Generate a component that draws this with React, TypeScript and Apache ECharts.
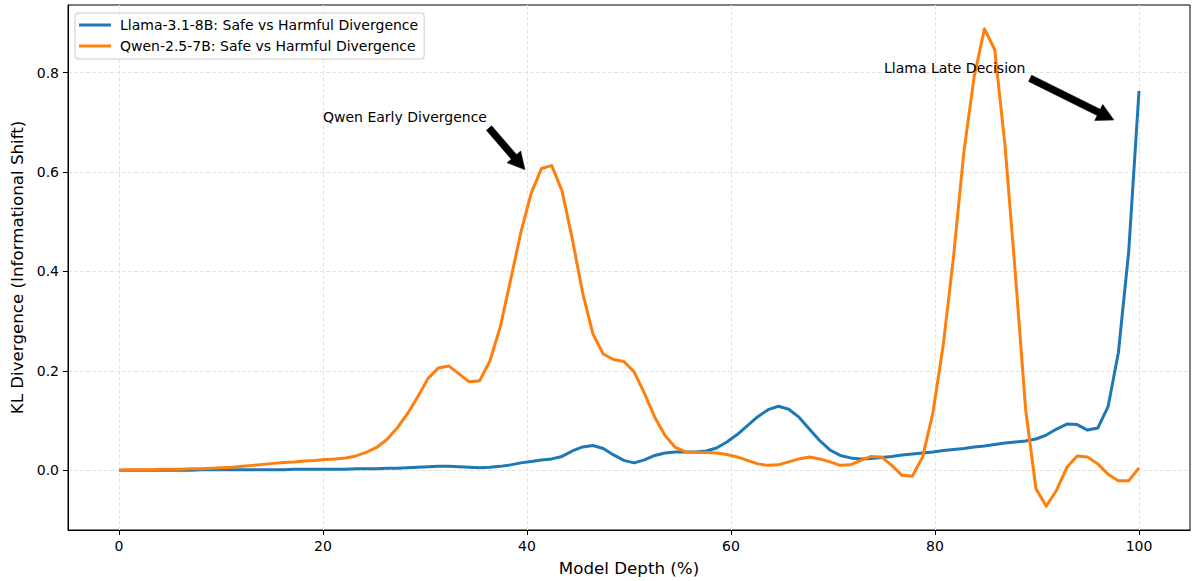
import { useEffect, useRef } from "react";
import * as echarts from "echarts";

// ---- data ----
const seriesNames = [
  "Llama-3.1-8B: Safe vs Harmful Divergence",
  "Qwen-2.5-7B: Safe vs Harmful Divergence",
];
const seriesColors = ["#1f77b4", "#ff7f0e"];

const llama = [
  0.0, 0.0, 0.0, 0.0, 0.0, 0.0, 0.0, 0.0, 0.001, 0.001,
  0.001, 0.001, 0.001, 0.001, 0.001, 0.001, 0.001, 0.002, 0.002, 0.002,
  0.002, 0.002, 0.002, 0.003, 0.003, 0.003, 0.004, 0.004, 0.005, 0.006,
  0.007, 0.008, 0.008, 0.007, 0.006, 0.005, 0.006, 0.008, 0.011, 0.015,
  0.018, 0.021, 0.023, 0.028, 0.039, 0.047, 0.05, 0.044, 0.031, 0.02,
  0.015, 0.021, 0.03, 0.035, 0.037, 0.037, 0.037, 0.039, 0.045, 0.057,
  0.072, 0.09, 0.108, 0.122, 0.129, 0.123, 0.107, 0.083, 0.06, 0.041,
  0.03, 0.025, 0.023, 0.024, 0.026, 0.028, 0.031, 0.033, 0.035, 0.037,
  0.04, 0.042, 0.044, 0.047, 0.049, 0.052, 0.055, 0.057, 0.059, 0.063,
  0.071, 0.083, 0.093, 0.092, 0.081, 0.085, 0.128, 0.237, 0.44, 0.763,
];

const qwen = [
  0.0, 0.001, 0.001, 0.001, 0.002, 0.002, 0.002, 0.003, 0.003, 0.004,
  0.005, 0.006, 0.008, 0.01, 0.012, 0.014, 0.016, 0.017, 0.019, 0.02,
  0.022, 0.023, 0.025, 0.029, 0.036, 0.046, 0.062, 0.085, 0.114, 0.148,
  0.185, 0.206, 0.21, 0.194, 0.178, 0.18, 0.22, 0.288, 0.382, 0.478,
  0.557, 0.607, 0.613, 0.562, 0.465, 0.357, 0.274, 0.234, 0.223, 0.219,
  0.198, 0.155, 0.107, 0.07, 0.046, 0.037, 0.036, 0.036, 0.035, 0.032,
  0.027, 0.02, 0.013, 0.01, 0.011, 0.017, 0.023, 0.027, 0.023, 0.017,
  0.01, 0.011, 0.02, 0.028, 0.027, 0.01, -0.01, -0.012, 0.027, 0.116,
  0.252, 0.43, 0.64, 0.792, 0.888, 0.846, 0.652, 0.395, 0.122, -0.037,
  -0.072, -0.04, 0.006, 0.029, 0.027, 0.013, -0.008, -0.021, -0.021, 0.005,
];

const xTicks = [0, 20, 40, 60, 80, 100];
const yTicks = [0, 0.2, 0.4, 0.6, 0.8];
const xRange = [-5, 105];
const xLabel = "Model Depth (%)";
const yLabel = "KL Divergence (Informational Shift)";

const annotations = [
  { text: "Qwen Early Divergence", textAt: [20, 0.7], pointAt: [40, 0.6] },
  { text: "Llama Late Decision", textAt: [75, 0.8], pointAt: [98, 0.7] },
];

const FONT = "DejaVu Sans";

export default function App() {
  const ref = useRef<HTMLDivElement>(null);

  useEffect(() => {
    if (!ref.current) return;
    const chart = echarts.init(ref.current, undefined, { renderer: "svg" });

    const depth = llama.map((_, i) => (i * 100) / (llama.length - 1));
    const all = [...llama, ...qwen];
    const dMin = Math.min(...all);
    const dMax = Math.max(...all);
    const pad = (dMax - dMin) * 0.05;
    const yMin = dMin - pad;
    const yMax = dMax + pad;

    const seriesData = [llama, qwen];

    chart.setOption({
      animation: false,
      backgroundColor: "#ffffff",
      grid: {
        left: 68,
        right: 2,
        top: 5,
        bottom: 48,
        show: true,
        borderColor: "#000",
        borderWidth: 1,
        backgroundColor: "transparent",
      },
      legend: {
        orient: "vertical",
        left: 75,
        top: 13,
        icon: "rect",
        itemWidth: 32,
        itemHeight: 3,
        itemGap: 5,
        padding: [4, 6, 5, 4],
        backgroundColor: "rgba(255,255,255,0.8)",
        borderColor: "#cccccc",
        borderWidth: 1,
        borderRadius: 3,
        textStyle: {
          fontFamily: FONT,
          fontSize: 14,
          color: "#000",
          lineHeight: 16,
          padding: [0, 0, 0, 4],
        },
        data: seriesNames,
      },
      xAxis: {
        type: "value",
        min: xRange[0],
        max: xRange[1],
        name: xLabel,
        nameLocation: "middle",
        nameGap: 29,
        nameTextStyle: { fontFamily: FONT, fontSize: 16.7, color: "#000" },
        axisLine: { show: true, onZero: false, lineStyle: { color: "#000", width: 1 } },
        axisTick: { show: true, length: 5, customValues: xTicks, lineStyle: { color: "#000" } },
        axisLabel: {
          customValues: xTicks,
          margin: 9,
          fontFamily: FONT,
          fontSize: 14,
          color: "#000",
          formatter: (v: number) => String(Math.round(v)),
        },
        splitLine: { show: true, lineStyle: { type: [4, 2], color: "#e3e3e3", width: 1 } },
      },
      yAxis: {
        type: "value",
        min: yMin,
        max: yMax,
        name: yLabel,
        nameLocation: "middle",
        nameGap: 39,
        nameTextStyle: { fontFamily: FONT, fontSize: 16.7, color: "#000" },
        axisLine: { show: true, onZero: false, lineStyle: { color: "#000", width: 1 } },
        axisTick: { show: true, length: 5, customValues: yTicks, lineStyle: { color: "#000" } },
        axisLabel: {
          customValues: yTicks,
          margin: 9,
          fontFamily: FONT,
          fontSize: 14,
          color: "#000",
          formatter: (v: number) => v.toFixed(1),
        },
        splitLine: { show: true, lineStyle: { type: [4, 2], color: "#e3e3e3", width: 1 } },
      },
      series: seriesNames.map((name, si) => ({
        name,
        type: "line",
        data: seriesData[si].map((v, i) => [depth[i], v]),
        showSymbol: false,
        symbol: "none",
        color: seriesColors[si],
        lineStyle: { width: 3, color: seriesColors[si], join: "round" },
        z: 2 + si,
      })),
    });

    // annotations (text + matplotlib-style arrow)
    const canvas = document.createElement("canvas");
    const ctx = canvas.getContext("2d")!;
    const fs = 14;
    ctx.font = `${fs}px "${FONT}"`;
    const graphics: any[] = [];
    annotations.forEach((a) => {
      const [tx, ty] = chart.convertToPixel({ gridIndex: 0 }, a.textAt) as number[];
      const [px, py] = chart.convertToPixel({ gridIndex: 0 }, a.pointAt) as number[];
      const w = ctx.measureText(a.text).width;
      graphics.push({
        type: "text",
        x: tx,
        y: ty - 5,
        z: 100,
        style: {
          text: a.text,
          font: `${fs}px "${FONT}"`,
          fill: "#000",
          align: "left",
          verticalAlign: "middle",
        },
      });
      const xs = [tx, tx + w / 2, tx + w];
      const top = ty - 0.93 * fs;
      const bottom = ty + 0.24 * fs;
      const ys = [top, (top + bottom) / 2, bottom];
      const sx = xs.reduce((b, c) => (Math.abs(c - px) < Math.abs(b - px) ? c : b));
      const sy = ys.reduce((b, c) => (Math.abs(c - py) < Math.abs(b - py) ? c : b));
      const dx = px - sx;
      const dy = py - sy;
      const r = Math.hypot(dx, dy);
      const ux = dx / r;
      const uy = dy / r;
      const shrink = 0.05 * r;
      const T = [sx + ux * shrink, sy + uy * shrink];
      const P = [px - ux * shrink, py - uy * shrink];
      const tw = 7 / 2;
      const hw = 18 / 2;
      const hl = 17;
      const nx = -uy;
      const ny = ux;
      const H = [P[0] - ux * hl, P[1] - uy * hl];
      const pts = [
        [T[0] + nx * tw, T[1] + ny * tw],
        [H[0] + nx * tw, H[1] + ny * tw],
        [H[0] + nx * hw, H[1] + ny * hw],
        [P[0], P[1]],
        [H[0] - nx * hw, H[1] - ny * hw],
        [H[0] - nx * tw, H[1] - ny * tw],
        [T[0] - nx * tw, T[1] - ny * tw],
      ];
      graphics.push({
        type: "polygon",
        z: 100,
        shape: { points: pts },
        style: { fill: "#000", stroke: "#000", lineWidth: 0.5 },
      });
    });
    chart.setOption({ graphic: graphics });

    return () => chart.dispose();
  }, []);

  return (
    <div
      ref={ref}
      style={{ position: "absolute", left: 0, top: 0, width: 1192, height: 581 }}
    />
  );
}
